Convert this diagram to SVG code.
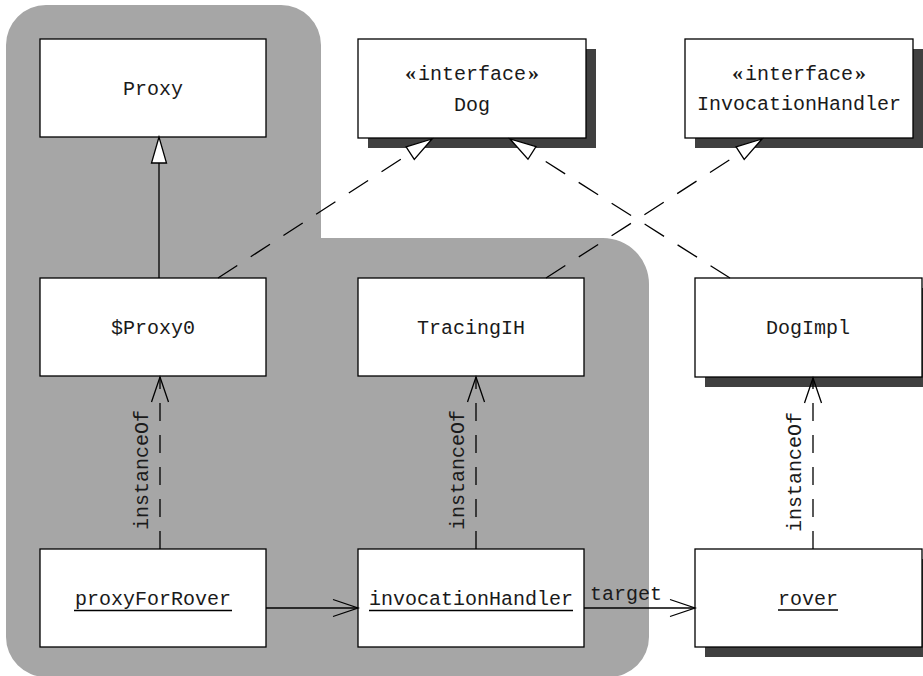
<svg xmlns="http://www.w3.org/2000/svg" width="923" height="676" viewBox="0 0 923 676">
<style>
.box{fill:#fff;stroke:#000;stroke-width:1.3}
.sh{fill:#404040}
.t{font-family:"Liberation Mono","DejaVu Sans Mono",monospace;font-size:20px;fill:#1a1a1a;text-anchor:middle}
.g{font-family:"Liberation Serif",serif;font-weight:bold;font-size:22px}
.ul{stroke:#000;stroke-width:1.6}
.solid{stroke:#000;stroke-width:1.3;fill:none}
.dash{stroke:#000;stroke-width:1.3;fill:none;stroke-dasharray:23 16}
.vdash{stroke:#000;stroke-width:1.3;fill:none;stroke-dasharray:18 14}
</style>
<defs>
<marker id="tri" markerUnits="userSpaceOnUse" orient="auto" overflow="visible" refX="0" refY="0" markerWidth="30" markerHeight="20">
<path d="M0,0 L-26,-7.5 L-26,7.5 Z" fill="#fff" stroke="#000" stroke-width="1.3" stroke-dasharray="none"/>
</marker>
<marker id="open" markerUnits="userSpaceOnUse" orient="auto" overflow="visible" refX="0" refY="0" markerWidth="30" markerHeight="20">
<path d="M-25,-8.5 L0,0 L-25,8.5" fill="none" stroke="#000" stroke-width="1.3" stroke-dasharray="none"/>
</marker>
</defs>
<rect width="923" height="676" fill="#fff"/>
<path id="region" d="M46,5 H281 A40,40 0 0 1 321,45 V238 H603 A46,46 0 0 1 649,284 V637 A40,40 0 0 1 609,677 H46 A40,40 0 0 1 6,637 V45 A40,40 0 0 1 46,5 Z" fill="#a6a6a6"/>

<g id="proxy">
<rect class="box" x="40" y="39" width="226" height="98"/>
<text class="t" x="153" y="95">Proxy</text>
</g>
<g id="dog">
<rect class="sh" x="368" y="49" width="228" height="99"/>
<rect class="box" x="358" y="39" width="228" height="99"/>
<text class="t" x="472" y="80"><tspan class="g">«</tspan><tspan dx="2">interface</tspan><tspan class="g" dx="2">»</tspan></text>
<text class="t" x="472" y="111">Dog</text>
</g>
<g id="invocationHandlerIface">
<rect class="sh" x="695" y="49" width="228" height="99"/>
<rect class="box" x="685" y="39" width="228" height="99"/>
<text class="t" x="799" y="80"><tspan class="g">«</tspan><tspan dx="2">interface</tspan><tspan class="g" dx="2">»</tspan></text>
<text class="t" x="799" y="110">InvocationHandler</text>
</g>
<g id="proxy0">
<rect class="box" x="40" y="278" width="226" height="98"/>
<text class="t" x="153" y="334">$Proxy0</text>
</g>
<g id="tracingIH">
<rect class="box" x="358" y="278" width="226" height="98"/>
<text class="t" x="471" y="334">TracingIH</text>
</g>
<g id="dogImpl">
<rect class="sh" x="705" y="288" width="227" height="99"/>
<rect class="box" x="695" y="278" width="227" height="99"/>
<text class="t" x="808" y="334">DogImpl</text>
</g>
<g id="proxyForRover">
<rect class="box" x="40" y="549" width="226" height="98"/>
<text class="t" x="153" y="605">proxyForRover</text>
<line class="ul" x1="74" y1="610.5" x2="232" y2="610.5"/>
</g>
<g id="invocationHandler">
<rect class="box" x="358" y="549" width="226" height="98"/>
<text class="t" x="471" y="605">invocationHandler</text>
<line class="ul" x1="369" y1="610.5" x2="573" y2="610.5"/>
</g>
<g id="rover">
<rect class="sh" x="705" y="559" width="227" height="98"/>
<rect class="box" x="695" y="549" width="227" height="98"/>
<text class="t" x="808" y="605">rover</text>
<line class="ul" x1="778" y1="610" x2="838" y2="610"/>
</g>

<g id="connectors">
<line class="solid" x1="159" y1="278" x2="159" y2="137" marker-end="url(#tri)"/>
<line class="dash" x1="218" y1="278" x2="432" y2="139" marker-end="url(#tri)"/>
<line class="dash" x1="546" y1="278" x2="762" y2="139" marker-end="url(#tri)"/>
<line class="dash" x1="730" y1="278" x2="510" y2="139" marker-end="url(#tri)"/>
<line class="vdash" x1="160" y1="549" x2="160" y2="377" marker-end="url(#open)"/>
<line class="vdash" x1="476" y1="549" x2="476" y2="377" marker-end="url(#open)"/>
<line class="vdash" x1="813" y1="549" x2="813" y2="378" marker-end="url(#open)"/>
<line class="solid" x1="266" y1="608" x2="358" y2="608" marker-end="url(#open)"/>
<line class="solid" x1="584" y1="608" x2="695" y2="608" marker-end="url(#open)"/>
<text class="t" transform="translate(148,470) rotate(-90)">instanceOf</text>
<text class="t" transform="translate(464,470) rotate(-90)">instanceOf</text>
<text class="t" transform="translate(801,472) rotate(-90)">instanceOf</text>
<text class="t" x="626" y="600">target</text>
</g>
</svg>
